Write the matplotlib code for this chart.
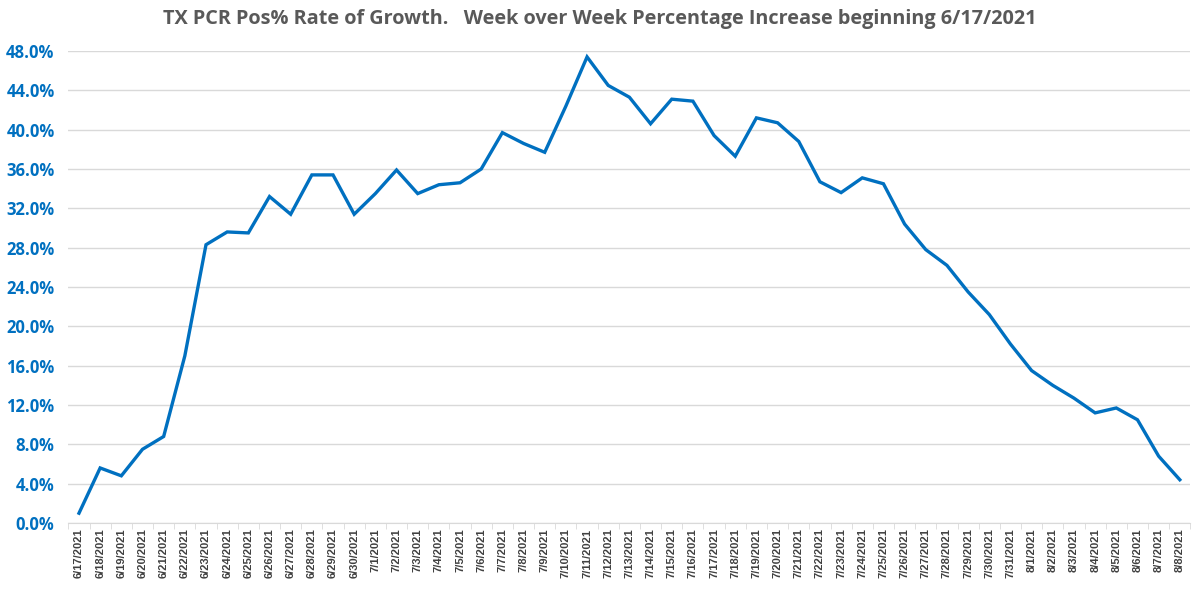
import matplotlib
matplotlib.use('Agg')
import matplotlib.pyplot as plt
import numpy as np
from matplotlib.ticker import FuncFormatter, FixedLocator

plt.rcParams['font.family'] = ['Open Sans', 'DejaVu Sans']

# dates and week over week growth (%)
dates = ['6/17/2021', '6/18/2021', '6/19/2021', '6/20/2021', '6/21/2021', '6/22/2021',
         '6/23/2021', '6/24/2021', '6/25/2021', '6/26/2021', '6/27/2021', '6/28/2021',
         '6/29/2021', '6/30/2021', '7/1/2021', '7/2/2021', '7/3/2021', '7/4/2021',
         '7/5/2021', '7/6/2021', '7/7/2021', '7/8/2021', '7/9/2021', '7/10/2021',
         '7/11/2021', '7/12/2021', '7/13/2021', '7/14/2021', '7/15/2021', '7/16/2021',
         '7/17/2021', '7/18/2021', '7/19/2021', '7/20/2021', '7/21/2021', '7/22/2021',
         '7/23/2021', '7/24/2021', '7/25/2021', '7/26/2021', '7/27/2021', '7/28/2021',
         '7/29/2021', '7/30/2021', '7/31/2021', '8/1/2021', '8/2/2021', '8/3/2021',
         '8/4/2021', '8/5/2021', '8/6/2021', '8/7/2021', '8/8/2021']
growth = [1.0, 5.6, 4.8, 7.5, 8.8, 17.0, 28.3, 29.6, 29.5, 33.2, 31.4, 35.4,
          35.4, 31.4, 33.5, 35.9, 33.5, 34.4, 34.6, 36.0, 39.7, 38.6, 37.7, 42.4,
          47.4, 44.5, 43.3, 40.6, 43.1, 42.9, 39.4, 37.3, 41.2, 40.7, 38.8, 34.7,
          33.6, 35.1, 34.5, 30.4, 27.8, 26.2, 23.5, 21.2, 18.2, 15.5, 14.0, 12.7,
          11.2, 11.7, 10.5, 6.8, 4.4]

fig = plt.figure(figsize=(12, 5.93), dpi=100)
ax = fig.add_axes([0.057, 0.118, 0.935, 0.796])

x = np.arange(len(dates))
ax.plot(x, growth, color='#0070C0', lw=2.4, solid_joinstyle='miter')

ax.set_xlim(-0.5, len(dates) - 0.5)
ax.set_ylim(0, 48)
ax.set_yticks(np.arange(0, 49, 4))
ax.yaxis.set_major_formatter(FuncFormatter(lambda v, p: '%.1f%%' % v))
ax.grid(axis='y', color='#D9D9D9', lw=1)
ax.set_axisbelow(True)

ax.set_xticks(x)
ax.set_xticklabels(dates, rotation=90, fontsize=8, fontweight='bold', color='#404040',
                   family=['Liberation Sans', 'DejaVu Sans'])
ax.xaxis.set_minor_locator(FixedLocator(np.arange(-0.5, len(dates), 1)))
ax.tick_params(axis='x', which='major', length=0, pad=4)
ax.tick_params(axis='x', which='minor', length=4, color='#D9D9D9')
ax.tick_params(axis='y', length=0, labelsize=12, labelcolor='#0070C0', pad=10)
for lab in ax.get_yticklabels():
    lab.set_fontweight('bold')

for s in ['top', 'right', 'left']:
    ax.spines[s].set_visible(False)
ax.spines['bottom'].set_color('#D9D9D9')

fig.suptitle('TX PCR Pos% Rate of Growth.   Week over Week Percentage Increase beginning 6/17/2021',
             y=0.985, fontsize=14.3, fontweight='bold', color='#595959')

fig.savefig('out.png', dpi=100)
